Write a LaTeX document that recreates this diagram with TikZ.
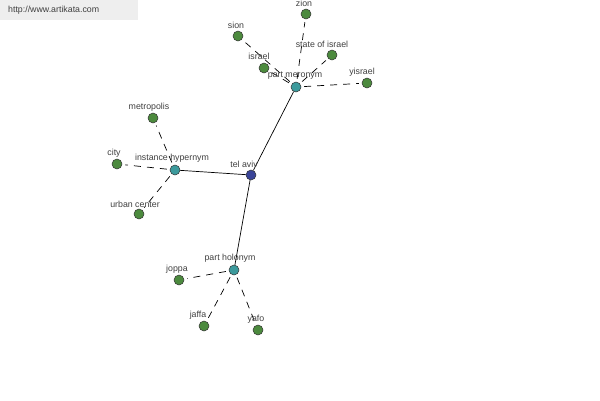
\documentclass[tikz,border=0pt]{standalone}
\usepackage{fontspec}
\setmainfont{Liberation Sans}
\definecolor{leafc}{HTML}{4C8A3E}
\definecolor{hubc}{HTML}{3C9A9C}
\definecolor{rootc}{HTML}{3A4498}
\definecolor{txtc}{HTML}{404040}
\definecolor{wmbg}{HTML}{EEEEEE}
\tikzset{
  dot/.style={circle, draw=black!80, line width=0.5pt, minimum size=10pt, inner sep=0pt},
  leaf/.style={dot, fill=leafc},
  hub/.style={dot, fill=hubc},
  root/.style={dot, fill=rootc},
  lbl/.style={text=txtc, font=\fontsize{8.8}{10}\selectfont, inner sep=0pt},
  solidlink/.style={draw=black, line width=0.7pt},
  dashlink/.style={draw=black, line width=0.7pt, dash pattern=on 7pt off 6pt, shorten <=3pt, shorten >=3pt},
}
\begin{document}
\begin{tikzpicture}[x=1pt,y=-1pt]
\useasboundingbox (0,0) rectangle (600,400);
\fill[white] (0,0) rectangle (600,400);
% watermark
\node[fill=wmbg, minimum width=138pt, minimum height=20pt, inner sep=0pt, anchor=north west] (wm) at (0,0) {};
\node[lbl, anchor=west] (wmt) at (8,10) {http://www.artikata.com};
% nodes
\node[root] (telaviv) at (251,175) {};
\node[hub] (mero) at (296,87) {};
\node[hub] (hyper) at (175,170) {};
\node[hub] (holo) at (234,270) {};
\node[leaf] (zion) at (306,14) {};
\node[leaf] (sion) at (238,36) {};
\node[leaf] (israel) at (264,68) {};
\node[leaf] (stateisr) at (332,55) {};
\node[leaf] (yisrael) at (367,83) {};
\node[leaf] (metro) at (153,118) {};
\node[leaf] (city) at (117,164) {};
\node[leaf] (urban) at (139,214) {};
\node[leaf] (joppa) at (179,280) {};
\node[leaf] (jaffa) at (204,326) {};
\node[leaf] (yafo) at (258,330) {};
% connectors
\draw[solidlink] (telaviv) -- (mero);
\draw[solidlink] (telaviv) -- (hyper);
\draw[solidlink] (telaviv) -- (holo);
\draw[dashlink] (mero) -- (zion);
\draw[dashlink] (mero) -- (sion);
\draw[dashlink] (mero) -- (israel);
\draw[dashlink] (mero) -- (stateisr);
\draw[dashlink] (mero) -- (yisrael);
\draw[dashlink] (hyper) -- (metro);
\draw[dashlink] (hyper) -- (city);
\draw[dashlink] (hyper) -- (urban);
\draw[dashlink] (holo) -- (joppa);
\draw[dashlink] (holo) -- (jaffa);
\draw[dashlink] (holo) -- (yafo);
% labels
\node[lbl] (l-telaviv) at (244,164) {tel aviv};
\node[lbl] (l-mero) at (295,76) {part meronym};
\node[lbl] (l-hyper) at (172,158) {instance hypernym};
\node[lbl] (l-holo) at (230,258) {part holonym};
\node[lbl] (l-zion) at (304,3) {zion};
\node[lbl] (l-sion) at (236,25) {sion};
\node[lbl] (l-israel) at (259,56) {israel};
\node[lbl] (l-stateisr) at (322,44) {state of israel};
\node[lbl] (l-yisrael) at (362,72) {yisrael};
\node[lbl] (l-metro) at (149,107) {metropolis};
\node[lbl] (l-city) at (114,153) {city};
\node[lbl] (l-urban) at (135,204) {urban center};
\node[lbl] (l-joppa) at (177,269) {joppa};
\node[lbl] (l-jaffa) at (198,315) {jaffa};
\node[lbl] (l-yafo) at (256,319) {yafo};
\end{tikzpicture}
\end{document}
